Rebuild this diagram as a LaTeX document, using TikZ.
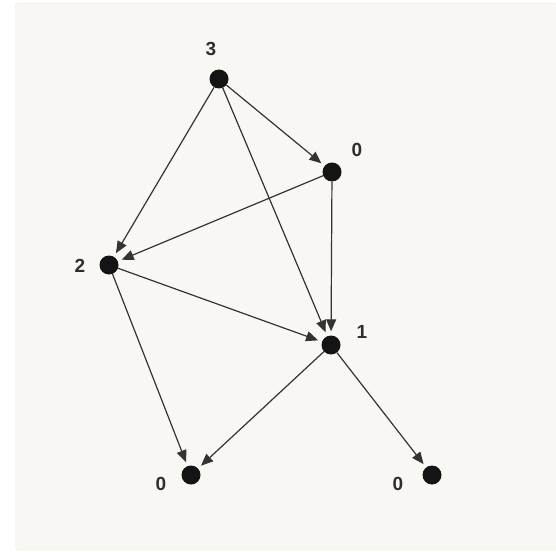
\documentclass[tikz,border=0pt]{standalone}
\usepackage{fontspec}
\setmainfont{Liberation Sans}
\usetikzlibrary{arrows.meta}

\definecolor{panel}{HTML}{F8F7F3}
\definecolor{panelrim}{HTML}{E9E7E0}
\definecolor{edgegray}{HTML}{333333}
\definecolor{labelgray}{HTML}{2E2E2E}

\begin{document}
\begin{tikzpicture}[x=1pt, y=-1pt,
  vertex/.style={circle, fill=black!92, draw=none, minimum size=19pt, inner sep=0pt},
  lbl/.style={font=\bfseries\fontsize{19}{19}\selectfont, text=labelgray, inner sep=0pt},
  arc/.style={-{Triangle[length=12pt, width=10pt]}, edgegray, line width=1.2pt, shorten >=4pt}]

  % Canvas and panel
  \useasboundingbox (0,0) rectangle (555,556);
  \fill[white] (0,0) rectangle (555,556);
  \draw[panelrim, fill=panel, rounded corners=3pt] (15.5,3) rectangle (560,550);

  % Vertices
  \node[vertex] (a) at (219,79) {};
  \node[vertex] (b) at (332,172) {};
  \node[vertex] (c) at (109,265) {};
  \node[vertex] (d) at (331,345) {};
  \node[vertex] (e) at (191,475) {};
  \node[vertex] (f) at (432,475) {};

  % Vertex values
  \node[lbl] (la) at (211,49) {3};
  \node[lbl] (lb) at (357,150) {0};
  \node[lbl] (lc) at (80,266) {2};
  \node[lbl] (ld) at (362,332) {1};
  \node[lbl] (le) at (161,484) {0};
  \node[lbl] (lf) at (398,484) {0};

  % Arcs
  \draw[arc] (a) -- (b);
  \draw[arc] (a) -- (c);
  \draw[arc] (a) -- (d);
  \draw[arc] (b) -- (c);
  \draw[arc] (b) -- (d);
  \draw[arc] (c) -- (d);
  \draw[arc] (c) -- (e);
  \draw[arc] (d) -- (e);
  \draw[arc] (d) -- (f);

\end{tikzpicture}
\end{document}
